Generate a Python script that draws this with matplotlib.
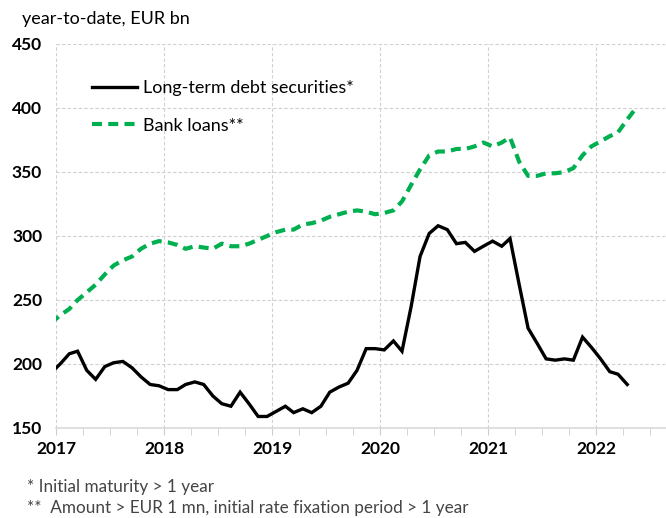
import matplotlib
matplotlib.use("Agg")
import matplotlib.pyplot as plt
import matplotlib.dates as mdates
import pandas as pd

plt.rcParams['font.family'] = ['Lato', 'DejaVu Sans']

# monthly, mid-month, Dec 2016 onwards
debt_start = '2016-12-01'
debt_values = [193, 200, 208, 210, 195, 188, 198, 201, 202, 197, 190, 184, 183,
               180, 180, 184, 186, 184, 175, 169, 167, 178, 169, 159, 159,
               163, 167, 162, 165, 162, 167, 178, 182, 185, 195, 212, 212,
               211, 218, 210, 245, 284, 302, 308, 305, 294, 295, 288, 292,
               296, 292, 298, 262, 228, 216, 204, 203, 204, 203, 221, 213,
               204, 194, 192, 184]
loans_values = [232, 238, 243, 250, 256, 262, 270, 277, 281, 284, 290, 294, 296,
                295, 293, 290, 292, 291, 290, 294, 292, 292, 294, 297, 300,
                303, 305, 305, 309, 310, 312, 315, 317, 319, 320, 319, 317,
                318, 320, 327, 340, 352, 363, 366, 366, 368, 368, 370, 373,
                370, 373, 377, 358, 347, 347, 349, 349, 350, 353, 363, 370,
                374, 378, 381, 391, 400]

debt_labels = 'Long-term debt securities*'
loans_labels = 'Bank loans**'
y_ticks = [150, 200, 250, 300, 350, 400, 450]

debt_dates = pd.date_range(debt_start, periods=len(debt_values), freq='MS') + pd.Timedelta(days=14)
loans_dates = pd.date_range(debt_start, periods=len(loans_values), freq='MS') + pd.Timedelta(days=14)

fig = plt.figure(figsize=(6.66, 5.18), dpi=100)
ax = fig.add_axes([56 / 666, 1 - 428 / 518, 1 - 56 / 666, (428 - 44) / 518])

ax.plot(debt_dates, debt_values, color='black', lw=2.4, label=debt_labels,
        solid_joinstyle='miter')
ax.plot(loans_dates, loans_values, color='#00b050', lw=3, dashes=(2.4, 1.5),
        label=loans_labels)

ax.set_xlim(pd.Timestamp('2017-01-01'), pd.Timestamp('2022-08-24'))
ax.set_ylim(150, 450)
ax.set_yticks(y_ticks)

ax.xaxis.set_major_locator(mdates.YearLocator())
ax.xaxis.set_major_formatter(mdates.DateFormatter('%Y'))
ax.xaxis.set_minor_locator(mdates.MonthLocator(bymonth=[4, 7, 10]))

ax.grid(True, which='major', color='#d0d0d0', ls=(0, (3, 2)), lw=0.8)
for s in ['top', 'right', 'left']:
    ax.spines[s].set_visible(False)
ax.spines['bottom'].set_color('#d8d8d8')
ax.spines['bottom'].set_linewidth(1.2)

ax.tick_params(axis='x', which='both', length=5, color='#cccccc', pad=4,
               labelsize=12.5)
ax.tick_params(axis='y', length=0, pad=10, labelsize=12.5)
for lab in ax.get_xticklabels() + ax.get_yticklabels():
    lab.set_fontweight('bold')

leg = ax.legend(loc='upper left', bbox_to_anchor=(92 / 666, 1 - 80 / 518),
                bbox_transform=fig.transFigure, frameon=False, fontsize=13,
                handlelength=2.5, handletextpad=0.35, labelspacing=1.2,
                borderaxespad=0, borderpad=0)

fig.text(22 / 666, 1 - 19 / 518, 'year-to-date, EUR bn', fontsize=13,
         va='center', ha='left')
fig.text(27 / 666, 1 - 487 / 518, '* Initial maturity > 1 year', fontsize=12.3,
         va='center', ha='left', color='#444444')
fig.text(27 / 666, 1 - 508 / 518,
         '**  Amount > EUR 1 mn, initial rate fixation period > 1 year',
         fontsize=12.3, va='center', ha='left', color='#444444')

fig.savefig('out.png', dpi=100)
